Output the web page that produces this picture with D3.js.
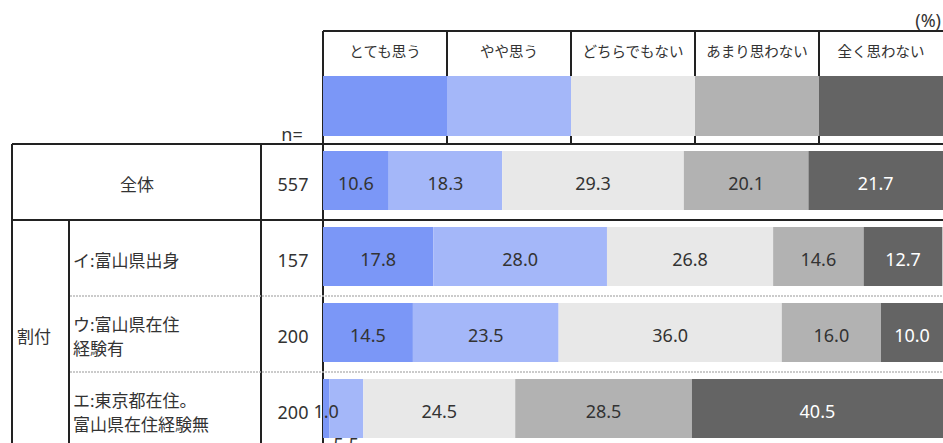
<!DOCTYPE html>
<html>
<head>
<meta charset="utf-8">
<script src="https://cdn.jsdelivr.net/npm/d3@7"></script>
<style>
  body { margin: 0; background: #fff; }
  text { font-family: "Noto Sans", "Noto Sans CJK JP", sans-serif; }
</style>
</head>
<body>
<div class="chart"></div>
<script>
// answer categories (legend)
const answers = ['とても思う', 'やや思う', 'どちらでもない', 'あまり思わない', '全く思わない'];
const colors = ['#7b97f7', '#a4b7f9', '#e8e8e8', '#b2b2b2', '#646464'];

// rows
const rowIds = ['all', 'i', 'u', 'e'];
const rowLabels = [['全体'], ['イ:富山県出身'], ['ウ:富山県在住', '経験有'], ['エ:東京都在住。', '富山県在住経験無']];
const rowN = [557, 157, 200, 200];

// percentages per answer, one array per row
const valsAll = [10.6, 18.3, 29.3, 20.1, 21.7];
const valsI = [17.8, 28.0, 26.8, 14.6, 12.7];
const valsU = [14.5, 23.5, 36.0, 16.0, 10.0];
const valsE = [1.0, 5.5, 24.5, 28.5, 40.5];
const rowVals = [valsAll, valsI, valsU, valsE];

const svgwidth = 943;
const svgheight = 443;
const barHeight = 59;
const ink = '#222';

const svg = d3.select('.chart').append('svg')
    .attr('width', svgwidth)
    .attr('height', svgheight)

const x = d3.scaleLinear().domain([0, 100]).range([323, 943]);
const legendX = d3.scaleBand().domain(answers).range([323, 943]);
const y = d3.scaleBand().domain(rowIds).range([144, 448]);

// stacked segments; a small segment that follows another small one gets its label under the bar
const segs = [];
rowVals.forEach((vals, r) => {
    let acc = 0;
    vals.forEach((v, i) => {
        const below = v < 8 && i > 0 && vals[i - 1] < 8;
        segs.push({row: rowIds[r], idx: i, v: v, x0: acc, x1: acc + v, below: below});
        acc += v;
    });
});

// ---- table lines
const lines = svg.append('g').attr('stroke', ink).attr('stroke-width', 2);
lines.append('line').attr('x1', 323).attr('x2', 943).attr('y1', 31).attr('y2', 31);
legendX.domain().forEach(a => {
    lines.append('line')
        .attr('x1', legendX(a)).attr('x2', legendX(a))
        .attr('y1', 31).attr('y2', y('all'));
});
[y('all'), y('i')].forEach(yy => {
    lines.append('line').attr('x1', 12).attr('x2', 943).attr('y1', yy).attr('y2', yy);
});
[12, 261, 323].forEach(xx => {
    lines.append('line').attr('x1', xx).attr('x2', xx).attr('y1', y('all')).attr('y2', svgheight);
});
lines.append('line').attr('x1', 69).attr('x2', 69).attr('y1', y('i')).attr('y2', svgheight);

// dashed separators between sub rows
svg.selectAll('.dash')
    .data(['u', 'e'])
    .enter()
    .append('line')
    .attr('class', 'dash')
    .attr('x1', 70).attr('x2', 943)
    .attr('y1', d => y(d)).attr('y2', d => y(d))
    .attr('stroke', '#bbbbbb')
    .attr('stroke-width', 1.5)
    .attr('stroke-dasharray', '2,1');

// ---- legend
svg.selectAll('.legendSwatch')
    .data(answers)
    .enter()
    .append('rect')
    .attr('class', 'legendSwatch')
    .attr('x', d => legendX(d))
    .attr('y', 76)
    .attr('width', legendX.bandwidth())
    .attr('height', 60)
    .attr('fill', (d, i) => colors[i]);

svg.selectAll('.legendText')
    .data(answers)
    .enter()
    .append('text')
    .attr('class', 'legendText')
    .attr('x', d => legendX(d) + legendX.bandwidth() / 2)
    .attr('y', 51)
    .attr('dominant-baseline', 'central')
    .attr('text-anchor', 'middle')
    .attr('font-size', 14.5)
    .attr('fill', '#333')
    .text(d => d);

svg.append('text')
    .attr('x', 941).attr('y', 20)
    .attr('dominant-baseline', 'central')
    .attr('text-anchor', 'end')
    .attr('font-size', 18)
    .attr('fill', '#333')
    .text('(%)');

svg.append('text')
    .attr('x', 292).attr('y', 134)
    .attr('dominant-baseline', 'central')
    .attr('text-anchor', 'middle')
    .attr('font-size', 18)
    .attr('fill', '#333')
    .text('n=');

// ---- bars
svg.selectAll('.seg')
    .data(segs)
    .enter()
    .append('rect')
    .attr('class', 'seg')
    .attr('x', d => x(d.x0))
    .attr('y', d => y(d.row) + 7)
    .attr('width', d => x(d.x1) - x(d.x0))
    .attr('height', barHeight)
    .attr('fill', d => colors[d.idx]);

svg.selectAll('.segLabel')
    .data(segs)
    .enter()
    .append('text')
    .attr('class', 'segLabel')
    .attr('x', d => x((d.x0 + d.x1) / 2))
    .attr('y', d => d.below ? y(d.row) + 7 + barHeight + 6 : y(d.row) + 7 + barHeight / 2 + 2)
    .attr('dominant-baseline', 'central')
    .attr('text-anchor', 'middle')
    .attr('font-size', 18)
    .attr('fill', d => d.idx === 4 ? '#fff' : '#333')
    .text(d => d.v.toFixed(1));

// ---- row labels
svg.append('text')
    .attr('x', 137).attr('y', y('all') + y.bandwidth() / 2 + 2)
    .attr('dominant-baseline', 'central')
    .attr('text-anchor', 'middle')
    .attr('font-size', 17)
    .attr('fill', '#333')
    .text(rowLabels[0][0]);

svg.append('text')
    .attr('x', 17).attr('y', (y('i') + svgheight + 10) / 2)
    .attr('dominant-baseline', 'central')
    .attr('font-size', 17)
    .attr('fill', '#333')
    .text('割付');

const sub = svg.selectAll('.rowLabel')
    .data(rowIds.slice(1))
    .enter()
    .append('text')
    .attr('class', 'rowLabel')
    .attr('font-size', 17)
    .attr('fill', '#333')
    .attr('dominant-baseline', 'central');

sub.selectAll('tspan')
    .data((d, i) => rowLabels[i + 1].map((t, k, arr) => ({t: t, row: d, k: k, n: arr.length})))
    .enter()
    .append('tspan')
    .attr('x', 73)
    .attr('y', d => y(d.row) + y.bandwidth() / 2 + 2 + (d.k - (d.n - 1) / 2) * 24)
    .text(d => d.t);

svg.selectAll('.nLabel')
    .data(rowIds)
    .enter()
    .append('text')
    .attr('class', 'nLabel')
    .attr('x', 293)
    .attr('y', d => y(d) + y.bandwidth() / 2 + 2)
    .attr('dominant-baseline', 'central')
    .attr('text-anchor', 'middle')
    .attr('font-size', 18)
    .attr('fill', '#333')
    .text((d, i) => rowN[i]);
</script>
</body>
</html>
